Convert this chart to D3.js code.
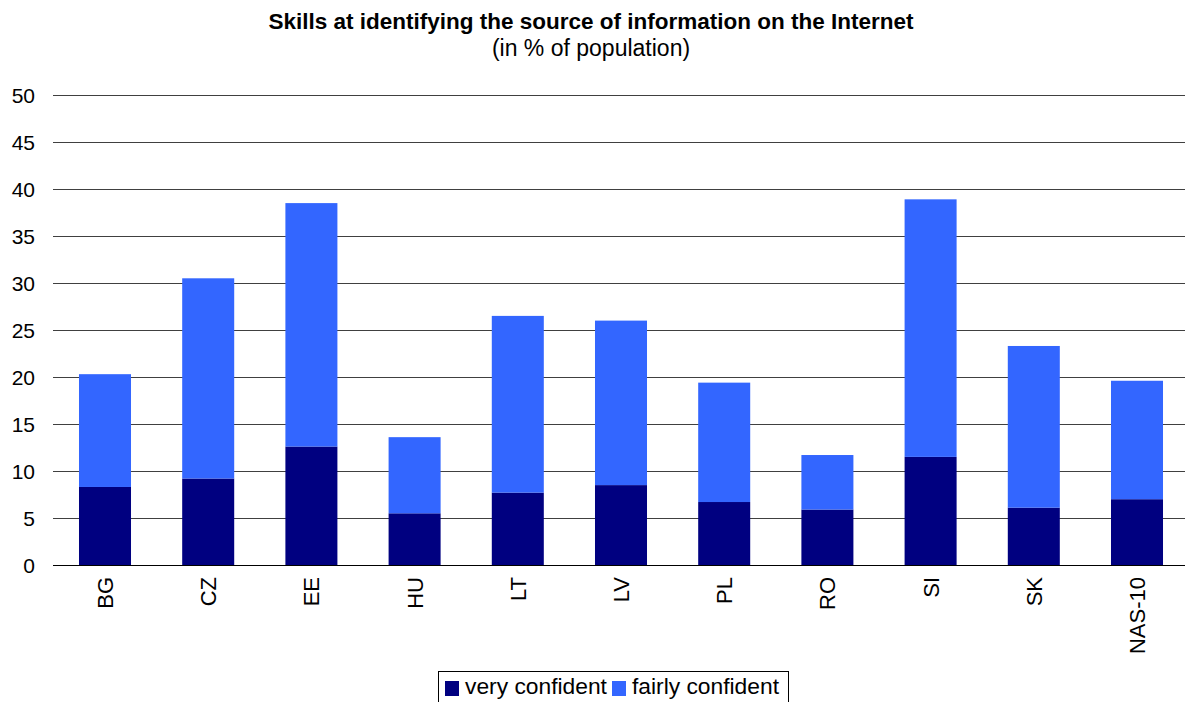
<!DOCTYPE html>
<html>
<head>
<meta charset="utf-8">
<script src="https://cdn.jsdelivr.net/npm/d3@7"></script>
<style>
  html, body { margin: 0; padding: 0; background: #fff; }
  svg { display: block; font-family: "Liberation Sans", Arial, sans-serif; }
</style>
</head>
<body>
<svg id="chart" width="1185" height="702"></svg>
<script>
const categories = ["BG", "CZ", "EE", "HU", "LT", "LV", "PL", "RO", "SI", "SK", "NAS-10"];
const veryConfident = [8.3, 9.2, 12.6, 5.5, 7.7, 8.5, 6.7, 5.9, 11.5, 6.1, 7.0];
const fairlyConfident = [12.0, 21.3, 25.9, 8.1, 18.8, 17.5, 12.7, 5.8, 27.4, 17.2, 12.6];
const yTicks = [0, 5, 10, 15, 20, 25, 30, 35, 40, 45, 50];
const seriesNames = ["very confident", "fairly confident"];
const seriesColors = ["#000080", "#3366FF"];

const svg = d3.select("#chart");

const x = d3.scaleBand()
  .domain(categories)
  .range([53.4, 1188.6])
  .paddingInner(0.496)
  .paddingOuter(0.248);

const y = d3.scaleLinear().domain([0, 50]).range([565, 95]);

// gridlines
svg.append("g")
  .selectAll("line")
  .data(yTicks.filter(d => d !== 0))
  .join("line")
  .attr("x1", 53).attr("x2", 1185)
  .attr("y1", d => Math.round(y(d)) + 0.5)
  .attr("y2", d => Math.round(y(d)) + 0.5)
  .attr("stroke", "#404040")
  .attr("stroke-width", 1);

// stacked data
const rows = categories.map((c, i) => ({ cat: c, very: veryConfident[i], fairly: fairlyConfident[i] }));
const stack = d3.stack().keys(["very", "fairly"]);
const stacked = stack(rows);

svg.append("g")
  .selectAll("g")
  .data(stacked)
  .join("g")
  .attr("fill", (d, i) => seriesColors[i])
  .selectAll("rect")
  .data(d => d)
  .join("rect")
  .attr("x", d => x(d.data.cat))
  .attr("width", x.bandwidth())
  .attr("y", d => y(d[1]))
  .attr("height", d => y(d[0]) - y(d[1]));

// baseline axis
svg.append("line")
  .attr("x1", 53).attr("x2", 1185)
  .attr("y1", 565.5).attr("y2", 565.5)
  .attr("stroke", "#000").attr("stroke-width", 1);

// y tick labels
const yAxis = d3.axisLeft(y).tickValues(yTicks).tickSize(0).tickPadding(0);
const yg = svg.append("g").attr("transform", "translate(35,0)").call(yAxis);
yg.select(".domain").remove();
yg.selectAll("text")
  .attr("font-size", 21)
  .attr("font-family", "Liberation Sans, Arial, sans-serif")
  .attr("fill", "#000")
  .attr("dy", "0.36em");

// x labels
const xAxis = d3.axisBottom(x).tickSize(0).tickPadding(0);
const xg = svg.append("g").attr("transform", "translate(0,565)").call(xAxis);
xg.select(".domain").remove();
xg.selectAll("text")
  .attr("font-size", 22)
  .attr("font-family", "Liberation Sans, Arial, sans-serif")
  .attr("fill", "#000")
  .attr("text-anchor", "end")
  .attr("dy", "0.36em")
  .attr("y", 0)
  .attr("x", 0)
  .attr("transform", "translate(0,12) rotate(-90)");

// title
svg.append("text")
  .attr("x", 591).attr("y", 29)
  .attr("text-anchor", "middle")
  .attr("font-size", 22.5).attr("font-weight", "bold")
  .text("Skills at identifying the source of information on the Internet");
svg.append("text")
  .attr("x", 591).attr("y", 56)
  .attr("text-anchor", "middle")
  .attr("font-size", 23)
  .text("(in % of population)");

// legend
const lg = svg.append("g");
lg.append("rect")
  .attr("x", 438.5).attr("y", 671.5)
  .attr("width", 350).attr("height", 40)
  .attr("fill", "#fff").attr("stroke", "#000");
const legendItems = [
  { sx: 445, tx: 465 },
  { sx: 612, tx: 632 }
];
seriesNames.forEach((n, i) => {
  lg.append("rect")
    .attr("x", legendItems[i].sx).attr("y", 681)
    .attr("width", 14).attr("height", 15)
    .attr("fill", seriesColors[i]);
  lg.append("text")
    .attr("x", legendItems[i].tx).attr("y", 694)
    .attr("font-size", 22.8)
    .text(n);
});
</script>
</body>
</html>
